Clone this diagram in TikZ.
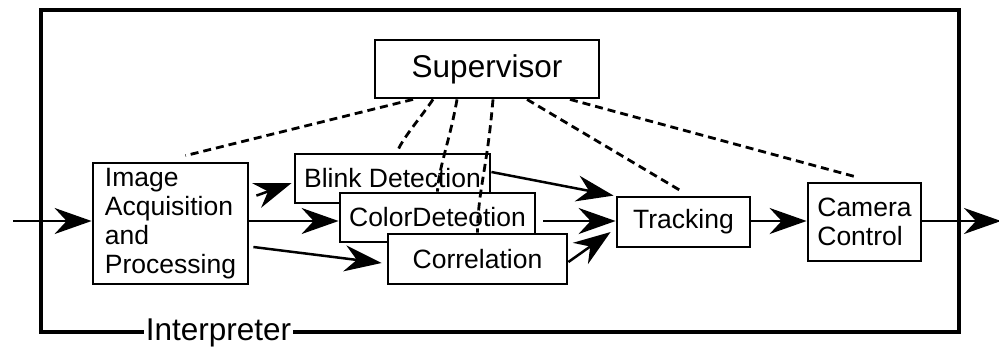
\documentclass[tikz,border=0pt]{standalone}
\usepackage{fontspec}
\setmainfont{Liberation Sans}
\usetikzlibrary{arrows.meta}
\begin{document}
\begin{tikzpicture}[x=1pt,y=-1pt,
  box/.style={draw,line width=2.8pt,fill=white,inner sep=0pt,
    font=\fontsize{26.5}{29}\selectfont},
  bigbox/.style={box,font=\fontsize{31.5}{34}\selectfont},
  arr/.style={line width=2.5pt,-{Stealth[length=37pt,width=26pt,inset=12pt]}},
  ctl/.style={line width=2.8pt,dash pattern=on 8pt off 5pt},
  frame/.style={line width=4.8pt}]
\useasboundingbox (0,0) rectangle (999,349);

% interpreter frame with its label on the bottom edge
\draw[frame] (41,10) rectangle (959,332);
\node[anchor=base,fill=white,inner xsep=1.5pt,inner ysep=2pt,
  font=\fontsize{31.5}{34}\selectfont] (lbl) at (218.5,340) {Interpreter};

% modules
\node[bigbox,minimum width=224pt,minimum height=58pt] (sup) at (487,69) {Supervisor};
\node[box,align=left,minimum width=155pt,minimum height=121pt] (img) at (170.5,223.5)
  {Image\\Acquisition\\and\\Processing};
\node[box,minimum width=195pt,minimum height=49pt] (blink) at (392.5,178.5) {Blink Detection};
\node[box,minimum width=195pt,minimum height=49pt] (color) at (437.5,217.5) {ColorDeteotion};
\node[box,minimum width=179pt,minimum height=50pt] (corr) at (477.5,259) {Correlation};
\node[box,minimum width=133pt,minimum height=50pt] (track) at (683.5,222) {Tracking};
\node[box,align=left,minimum width=113pt,minimum height=78pt] (cam) at (864.5,222)
  {Camera\\Control};

% supervisor control links
\draw[ctl] ([xshift=-74pt]sup.south) -- ([xshift=15pt,yshift=6pt]img.north);
\draw[ctl] ([xshift=-54pt]sup.south) .. controls (422,116) and (401,140) .. ([xshift=4.5pt]blink.north);
\draw[ctl] ([xshift=-30pt]sup.south) .. controls (450,140) and (438,170) .. (color.north);
\draw[ctl] ([xshift=6pt]sup.south) .. controls (487,170) and (478,190) .. (corr.north);
\draw[ctl] ([xshift=40pt]sup.south) -- ([xshift=-3pt,yshift=5pt]track.north);
\draw[ctl] ([xshift=83pt]sup.south) -- ([xshift=-9.5pt,yshift=5pt]cam.north);

% data flow
\coordinate (in) at (13,221);
\coordinate (out) at (1001,221);
\draw[arr] (in) -- (img.west |- in);
\draw[arr] ([xshift=7pt,yshift=-34pt]img.north east) -- ([xshift=-2pt,yshift=-4.5pt]blink.west);
\draw[arr] (img.east |- in) -- (color.west |- in);
\draw[arr] ([xshift=4pt,yshift=-23.5pt]img.east) -- ([xshift=-5pt,yshift=-4pt]corr.west);
\draw[arr] ([yshift=6.5pt]blink.east) -- ([xshift=-2pt]track.north west);
\draw[arr] ([xshift=7pt]color.east |- in) -- (track.west |- in);
\draw[arr] ([yshift=-3pt]corr.east) -- ([xshift=-5pt,yshift=-10pt]track.west);
\draw[arr] (track.east |- in) -- (cam.west |- in);
\draw[arr] (cam.east |- in) -- (out);
\end{tikzpicture}
\end{document}
